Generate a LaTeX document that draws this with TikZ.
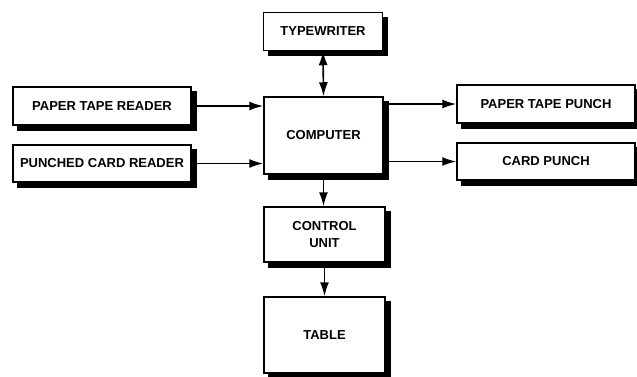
\documentclass[tikz,border=0pt]{standalone}
\usepackage{fontspec}
\setmainfont{Liberation Sans}
\usetikzlibrary{backgrounds,arrows.meta}
\begin{document}
\begin{tikzpicture}[x=1pt,y=-1pt,
  box/.style={draw=black, line width=1.5pt, fill=white, inner sep=0pt, align=center,
    font=\bfseries\fontsize{13}{17}\selectfont},
  shadowfill/.style={fill=black},
  tip/.tip={Latex[length=14pt,width=9pt]},
  arr/.style={line width=1.6pt, -tip},
  darr/.style={line width=1.6pt, tip-tip}]
\useasboundingbox (0,0) rectangle (637,376);
\node[box, minimum width=119pt, minimum height=38pt] (tw) at (323,31.5) {TYPEWRITER};
\node[box, minimum width=119pt, minimum height=77pt] (comp) at (323.5,135.5) {COMPUTER};
\node[box, minimum width=178pt, minimum height=38pt] (ptr) at (102,106) {PAPER TAPE READER};
\node[box, minimum width=178pt, minimum height=37pt] (pcr) at (102,163.5) {PUNCHED CARD READER};
\node[box, minimum width=178pt, minimum height=38pt] (ptp) at (546,104) {PAPER TAPE PUNCH};
\node[box, minimum width=178pt, minimum height=37pt] (cp) at (546,161.5) {CARD PUNCH};
\node[box, minimum width=121pt, minimum height=55pt] (cu) at (324.5,234.5) {CONTROL\\UNIT};
\node[box, minimum width=121pt, minimum height=76pt] (tab) at (324.5,335) {TABLE};
\begin{scope}[on background layer]
\foreach \n in {tw,comp,ptr,pcr,ptp,cp,cu,tab}
  \fill[shadowfill] ([shift={(5,5)}]\n.north west) rectangle ([shift={(5,5)}]\n.south east);
\end{scope}
\draw[darr] (tw.south) -- (comp.north);
\draw[arr] (ptr.east) -- (ptr.east -| comp.west);
\draw[arr] (pcr.east) -- (pcr.east -| comp.west);
\draw[arr] (comp.east |- ptp.west) -- (ptp.west);
\draw[arr] (comp.east |- cp.west) -- (cp.west);
\draw[arr] (comp.south) -- (comp.south |- cu.north);
\draw[arr] (cu.south) -- (cu.south |- tab.north);
\end{tikzpicture}
\end{document}
